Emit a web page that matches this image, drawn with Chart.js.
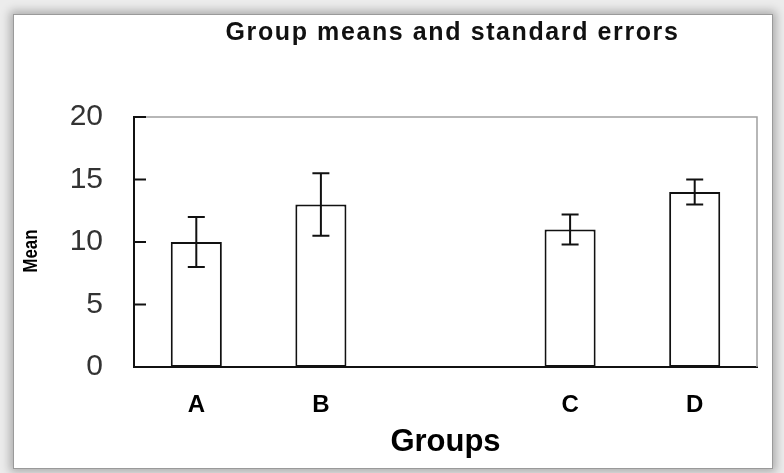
<!DOCTYPE html>
<html>
<head>
<meta charset="utf-8">
<script src="https://cdn.jsdelivr.net/npm/chart.js@4.4.0/dist/chart.umd.min.js"></script>
<style>
  html, body { margin: 0; padding: 0; background: #ececec; overflow: hidden; }
  #frame {
    position: absolute; left: 13px; top: 14px; width: 758px; height: 453px;
    background: #fff; border: 1px solid #9a9a9a;
    box-shadow: 0 0 9px 3px rgba(0, 0, 0, 0.28);
  }
  #wrap { position: absolute; left: 0; top: 0; width: 784px; height: 473px; }
</style>
</head>
<body>
<div id="frame"></div>
<div id="wrap"><canvas id="chart" width="784" height="473"></canvas></div>
<script>
// data
const groups = ["A", "B", "", "C", "D"];
const means = [10, 13, null, 11, 14];
const stdErrors = [2, 2.5, null, 1.2, 1];
const yTicks = [0, 5, 10, 15, 20];

const chartTitle = "Group means and standard errors";

// extra drawing: gray top/right frame, inward ticks, error bars, texts
const extras = {
  id: "extras",
  afterDatasetsDraw(chart) {
    const { ctx, chartArea: a, scales: { x, y } } = chart;
    ctx.save();

    ctx.strokeStyle = "#a0a0a0";
    ctx.lineWidth = 1.5;
    ctx.beginPath();
    ctx.moveTo(a.left, a.top);
    ctx.lineTo(a.right, a.top);
    ctx.lineTo(a.right, a.bottom);
    ctx.stroke();

    ctx.strokeStyle = "#111";
    ctx.lineWidth = 2;
    yTicks.forEach((v) => {
      const py = y.getPixelForValue(v);
      ctx.beginPath();
      ctx.moveTo(a.left, py);
      ctx.lineTo(a.left + 12, py);
      ctx.stroke();
    });

    // error bars
    means.forEach((m, i) => {
      if (m == null) return;
      const px = x.getPixelForValue(i);
      const hi = y.getPixelForValue(m + stdErrors[i]);
      const lo = y.getPixelForValue(m - stdErrors[i]);
      ctx.beginPath();
      ctx.moveTo(px, hi);
      ctx.lineTo(px, lo);
      ctx.moveTo(px - 8.5, hi);
      ctx.lineTo(px + 8.5, hi);
      ctx.moveTo(px - 8.5, lo);
      ctx.lineTo(px + 8.5, lo);
      ctx.stroke();
    });

    // title
    ctx.fillStyle = "#111";
    ctx.font = "bold 25px 'Liberation Sans', Arial, sans-serif";
    ctx.letterSpacing = "1.6px";
    ctx.textAlign = "center";
    ctx.textBaseline = "middle";
    ctx.fillText(chartTitle, (a.left + a.right) / 2 + 7, a.top - 84);
    ctx.letterSpacing = "0px";

    // y axis title, condensed like the original
    ctx.translate(31, (a.top + a.bottom) / 2 + 9);
    ctx.rotate(-Math.PI / 2);
    ctx.scale(0.8, 1);
    ctx.font = "bold 21px 'Liberation Sans', Arial, sans-serif";
    ctx.fillStyle = "#000";
    ctx.fillText("Mean", 0, 0);
    ctx.restore();
  }
};

new Chart(document.getElementById("chart"), {
  type: "bar",
  data: {
    labels: groups,
    datasets: [
      {
        data: means,
        backgroundColor: "#fff",
        borderColor: "#111",
        borderWidth: 2,
        borderSkipped: false,
        barPercentage: 0.41,
        categoryPercentage: 1,
      },
    ],
  },
  options: {
    responsive: false,
    animation: false,
    layout: { padding: { top: 117, right: 27, left: 0, bottom: 0 } },
    plugins: {
      legend: { display: false },
      tooltip: { enabled: false },
    },
    scales: {
      x: {
        afterFit(s) { s.height = 106; },
        grid: { display: false, drawTicks: false },
        border: { color: "#111", width: 2 },
        ticks: {
          color: "#000",
          padding: 24,
          font: { family: "'Liberation Sans', Arial, sans-serif", size: 24, weight: "bold" },
        },
        title: {
          display: true,
          text: "Groups",
          color: "#000",
          padding: { top: 0, bottom: 12 },
          font: { family: "'Liberation Sans', Arial, sans-serif", size: 31, weight: "bold" },
        },
      },
      y: {
        min: 0,
        max: 20,
        afterFit(s) { s.width = 134; },
        afterBuildTicks(s) { s.ticks = yTicks.map((v) => ({ value: v })); },
        grid: { display: false, drawTicks: false },
        border: { color: "#111", width: 2 },
        ticks: {
          color: "#333",
          padding: 31,
          font: { family: "'Liberation Sans', Arial, sans-serif", size: 30 },
        },
      },
    },
  },
  plugins: [extras],
});
</script>
</body>
</html>
